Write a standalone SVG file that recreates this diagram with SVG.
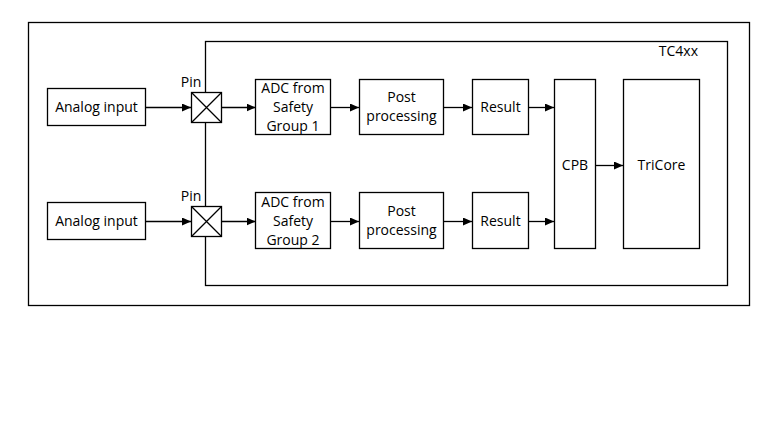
<svg xmlns="http://www.w3.org/2000/svg" width="775" height="438" viewBox="0 0 775 438">
<defs>
<style>
.box{fill:#fff;stroke:#000;stroke-width:1.3}
.frame{fill:none;stroke:#000;stroke-width:1.3}
.t{font-family:"Open Sans","Liberation Sans",sans-serif;font-size:14px;fill:#000;text-anchor:middle}
.c{fill:none;stroke:#000;stroke-width:1.3}
</style>
<marker id="ah" markerWidth="10" markerHeight="8" refX="9" refY="4" orient="auto" markerUnits="userSpaceOnUse">
<path d="M0,0 L9,4 L0,8 Z" fill="#000"/>
</marker>
</defs>
<rect width="775" height="438" fill="#fff"/>
<g id="outer"><rect class="frame" x="28.5" y="22.5" width="721" height="283"/></g>
<g id="tc4xx">
<rect class="frame" x="205.5" y="41.5" width="522" height="244"/>
<text class="t" x="698" y="56" style="text-anchor:end">TC4xx</text>
</g>
<g id="connectors">
<line class="c" x1="146" y1="107.5" x2="191" y2="107.5" marker-end="url(#ah)"/>
<line class="c" x1="222" y1="107.5" x2="255.5" y2="107.5" marker-end="url(#ah)"/>
<line class="c" x1="331" y1="107.5" x2="359" y2="107.5" marker-end="url(#ah)"/>
<line class="c" x1="444" y1="107.5" x2="472" y2="107.5" marker-end="url(#ah)"/>
<line class="c" x1="528" y1="107.5" x2="554" y2="107.5" marker-end="url(#ah)"/>
<line class="c" x1="146" y1="221.5" x2="191" y2="221.5" marker-end="url(#ah)"/>
<line class="c" x1="222" y1="221.5" x2="255.5" y2="221.5" marker-end="url(#ah)"/>
<line class="c" x1="331" y1="221.5" x2="359" y2="221.5" marker-end="url(#ah)"/>
<line class="c" x1="444" y1="221.5" x2="472" y2="221.5" marker-end="url(#ah)"/>
<line class="c" x1="528" y1="221.5" x2="554" y2="221.5" marker-end="url(#ah)"/>
<line class="c" x1="596" y1="165.5" x2="623" y2="165.5" marker-end="url(#ah)"/>
</g>
<g id="analog1"><rect class="box" x="47.5" y="88.5" width="98" height="37"/><text class="t" x="96.5" y="112">Analog input</text></g>
<g id="analog2"><rect class="box" x="47.5" y="202.5" width="98" height="37"/><text class="t" x="96.5" y="226">Analog input</text></g>
<g id="pin1">
<rect class="box" x="191.5" y="92.5" width="30" height="30"/>
<path class="c" d="M191.5,92.5 L221.5,122.5 M221.5,92.5 L191.5,122.5"/>
<text class="t" x="191" y="87">Pin</text>
</g>
<g id="pin2">
<rect class="box" x="191.5" y="206.5" width="30" height="30"/>
<path class="c" d="M191.5,206.5 L221.5,236.5 M221.5,206.5 L191.5,236.5"/>
<text class="t" x="191" y="201">Pin</text>
</g>
<g id="adc1"><rect class="box" x="255.5" y="79.5" width="75" height="55"/>
<text class="t" x="293" y="93">ADC from</text><text class="t" x="293" y="112">Safety</text><text class="t" x="293" y="131">Group 1</text></g>
<g id="adc2"><rect class="box" x="255.5" y="192.5" width="75" height="56"/>
<text class="t" x="293" y="207">ADC from</text><text class="t" x="293" y="226">Safety</text><text class="t" x="293" y="245">Group 2</text></g>
<g id="post1"><rect class="box" x="359.5" y="79.5" width="84" height="55"/>
<text class="t" x="401.5" y="102">Post</text><text class="t" x="401.5" y="121">processing</text></g>
<g id="post2"><rect class="box" x="359.5" y="192.5" width="84" height="56"/>
<text class="t" x="401.5" y="216">Post</text><text class="t" x="401.5" y="235">processing</text></g>
<g id="result1"><rect class="box" x="472.5" y="79.5" width="56" height="55"/><text class="t" x="500.5" y="112">Result</text></g>
<g id="result2"><rect class="box" x="472.5" y="192.5" width="56" height="56"/><text class="t" x="500.5" y="226">Result</text></g>
<g id="cpb"><rect class="box" x="554.5" y="79.5" width="41" height="169"/><text class="t" x="575" y="170">CPB</text></g>
<g id="tricore"><rect class="box" x="623.5" y="79.5" width="76" height="169"/><text class="t" x="661.5" y="170">TriCore</text></g>
</svg>
